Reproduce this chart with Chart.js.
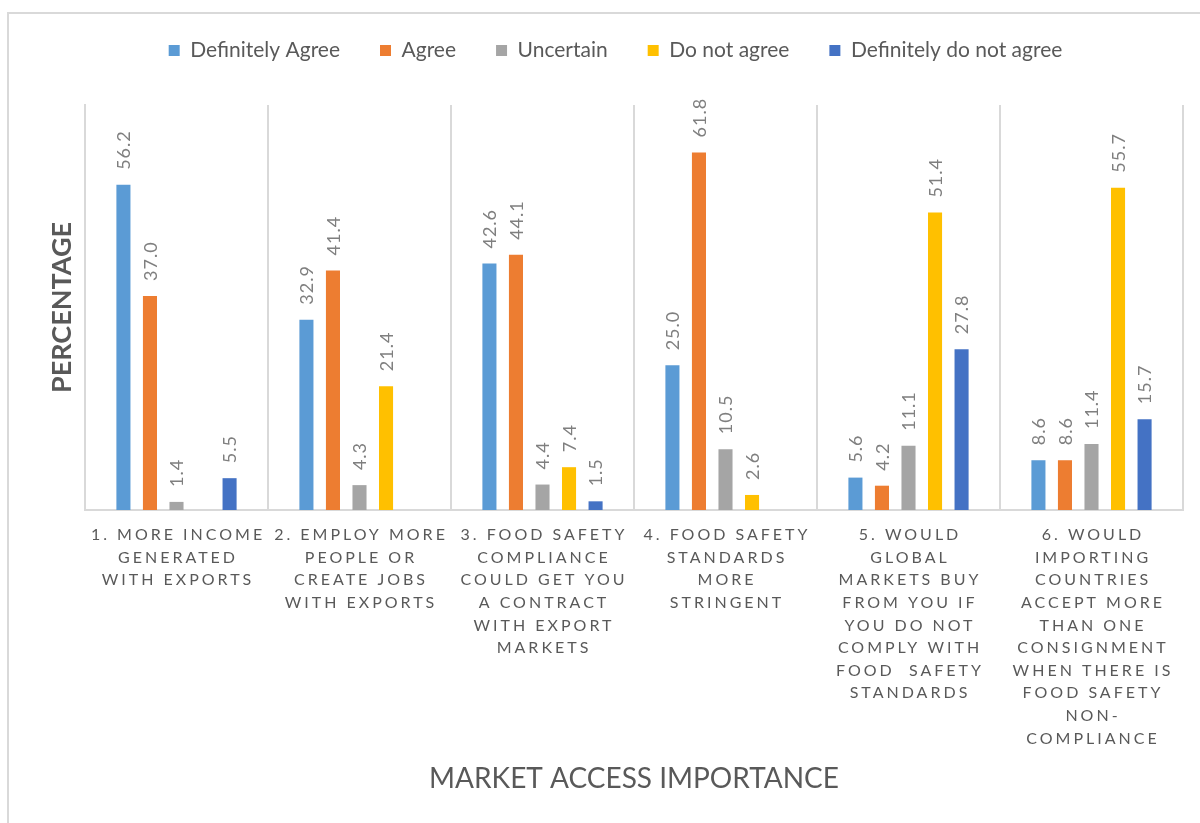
<!DOCTYPE html>
<html>
<head>
<meta charset="utf-8">
<script src="https://cdn.jsdelivr.net/npm/chart.js@4.4.1/dist/chart.umd.min.js"></script>
<style>
  html, body { margin: 0; padding: 0; background: #fff; overflow: hidden; }
  #frame { position: absolute; left: 7px; top: 12px; width: 1300px; height: 900px; border: 2px solid #d9d9d9; }
  #wrap { position: absolute; left: 0; top: 0; width: 1200px; height: 823px; }
</style>
</head>
<body>
<div id="frame"></div>
<div id="wrap"><canvas id="chart"></canvas></div>
<script>
// Survey answers per statement (percent of respondents)
const categories = [
  ['1. MORE INCOME', 'GENERATED', 'WITH EXPORTS'],
  ['2. EMPLOY MORE', 'PEOPLE OR', 'CREATE JOBS', 'WITH EXPORTS'],
  ['3. FOOD SAFETY', 'COMPLIANCE', 'COULD GET YOU', 'A CONTRACT', 'WITH EXPORT', 'MARKETS'],
  ['4. FOOD SAFETY', 'STANDARDS', 'MORE', 'STRINGENT'],
  ['5. WOULD', 'GLOBAL', 'MARKETS BUY', 'FROM YOU IF', 'YOU DO NOT', 'COMPLY WITH', 'FOOD  SAFETY', 'STANDARDS'],
  ['6. WOULD', 'IMPORTING', 'COUNTRIES', 'ACCEPT MORE', 'THAN ONE', 'CONSIGNMENT', 'WHEN THERE IS', 'FOOD SAFETY', 'NON-', 'COMPLIANCE']
];
const definitelyAgree = [56.2, 32.9, 42.6, 25.0, 5.6, 8.6];
const agree = [37.0, 41.4, 44.1, 61.8, 4.2, 8.6];
const uncertain = [1.4, 4.3, 4.4, 10.5, 11.1, 11.4];
const doNotAgree = [null, 21.4, 7.4, 2.6, 51.4, 55.7];
const definitelyDoNotAgree = [5.5, null, 1.5, null, 27.8, 15.7];

const FONT = 'Lato, "Open Sans", sans-serif';

// extra room between the legend and the plot, legend nudged right
const legendGap = {
  id: 'legendGap',
  afterInit(chart) {
    const legend = chart.legend;
    const fit = legend.fit;
    legend.fit = function () {
      fit.call(this);
      this.height += 34;
    };
  },
  afterLayout(chart) {
    chart.legend.left += 28;
  }
};

// rotated value above each bar
const valueLabels = {
  id: 'valueLabels',
  afterDatasetsDraw(chart) {
    const ctx = chart.ctx;
    ctx.save();
    ctx.font = '18px ' + FONT;
    ctx.letterSpacing = '1px';
    ctx.fillStyle = '#7f7f7f';
    ctx.textAlign = 'left';
    ctx.textBaseline = 'middle';
    chart.data.datasets.forEach((ds, i) => {
      chart.getDatasetMeta(i).data.forEach((bar, j) => {
        const v = ds.data[j];
        if (v === null) return;
        ctx.save();
        ctx.translate(bar.x + 1, bar.y - 15);
        ctx.rotate(-Math.PI / 2);
        ctx.fillText(v.toFixed(1), 0, 0);
        ctx.restore();
      });
    });
    ctx.restore();
  }
};

// category labels with wide letter spacing
const spacedTicks = {
  id: 'spacedTicks',
  afterDraw(chart) {
    const ctx = chart.ctx;
    const x = chart.scales.x;
    const spacing = 3;
    ctx.save();
    ctx.font = '16px ' + FONT;
    ctx.letterSpacing = spacing + 'px';
    ctx.fillStyle = '#595959';
    ctx.textAlign = 'center';
    ctx.textBaseline = 'middle';
    categories.forEach((lines, i) => {
      const cx = x.getPixelForValue(i) + spacing / 2;
      lines.forEach((t, k) => ctx.fillText(t, cx, x.top + 25 + k * 22.6));
    });
    ctx.restore();
  }
};

const barOpts = { barPercentage: 0.53, categoryPercentage: 0.725 };

new Chart(document.getElementById('chart'), {
  type: 'bar',
  data: {
    labels: categories,
    datasets: [
      { label: 'Definitely Agree', data: definitelyAgree, backgroundColor: '#5b9bd5', ...barOpts },
      { label: 'Agree', data: agree, backgroundColor: '#ed7d31', ...barOpts },
      { label: 'Uncertain', data: uncertain, backgroundColor: '#a5a5a5', ...barOpts },
      { label: 'Do not agree', data: doNotAgree, backgroundColor: '#ffc000', ...barOpts },
      { label: 'Definitely do not agree', data: definitelyDoNotAgree, backgroundColor: '#4472c4', ...barOpts }
    ]
  },
  options: {
    responsive: true,
    maintainAspectRatio: false,
    animation: false,
    layout: { padding: { left: 20, right: 17, top: 0, bottom: 10 } },
    plugins: {
      tooltip: { enabled: false },
      legend: {
        position: 'top',
        labels: {
          boxWidth: 11,
          boxHeight: 11,
          padding: 40,
          color: '#595959',
          font: { family: FONT, size: 21 }
        }
      }
    },
    scales: {
      y: {
        min: 0,
        max: 70,
        ticks: { display: false },
        grid: { display: false },
        border: { display: true, color: '#d9d9d9', width: 2 },
        title: {
          display: true,
          text: 'PERCENTAGE',
          color: '#595959',
          font: { family: FONT, size: 27, weight: 'bold' },
          padding: { top: 26, bottom: 0 }
        },
        afterFit(scale) { scale.width = 65; }
      },
      x: {
        ticks: { display: false },
        grid: { display: true, color: '#d9d9d9', lineWidth: 2, drawTicks: false, offset: true },
        border: { color: '#d9d9d9', width: 2 },
        title: {
          display: true,
          text: 'MARKET ACCESS IMPORTANCE',
          color: '#595959',
          font: { family: FONT, size: 28 },
          padding: { top: 0, bottom: 17 }
        },
        afterFit(scale) { scale.height = 303; }
      }
    }
  },
  plugins: [legendGap, valueLabels, spacedTicks]
});
</script>
</body>
</html>
